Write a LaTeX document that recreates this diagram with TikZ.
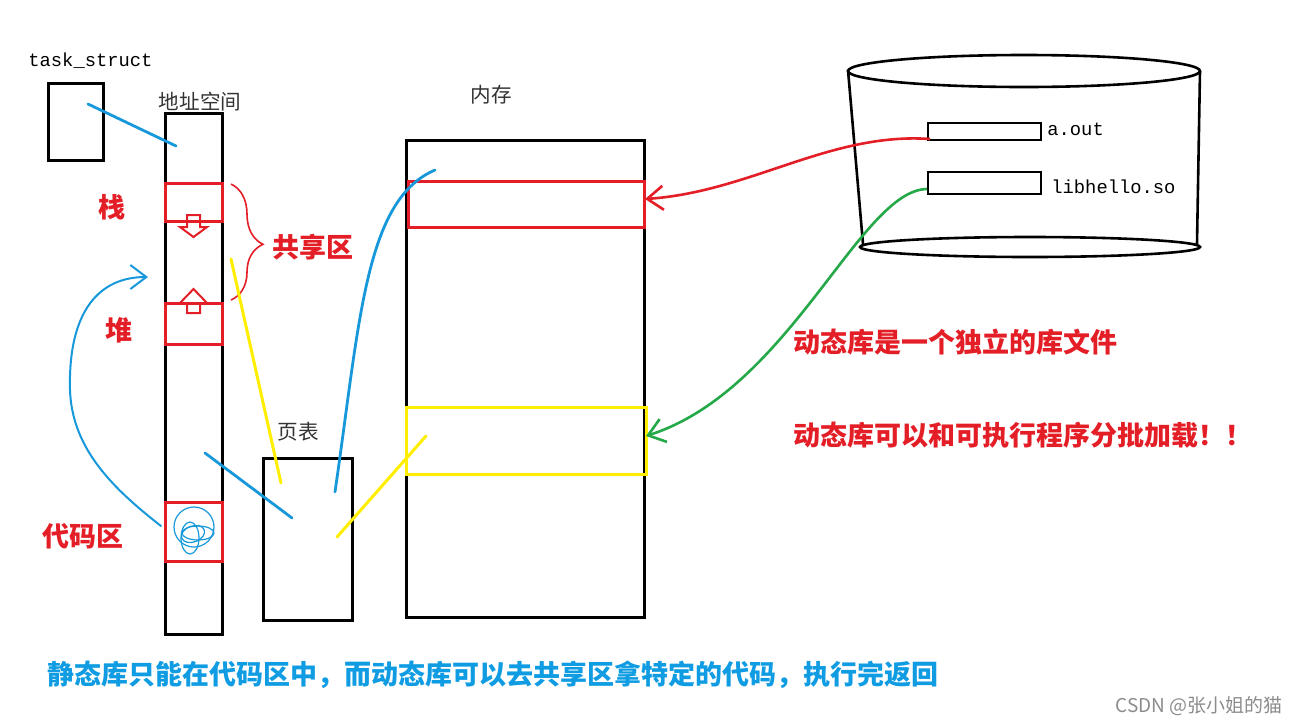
\documentclass[tikz,border=0pt]{standalone}
\usepackage{fontspec}
\setmonofont{Liberation Mono}
\newfontfamily\cjk{Noto Sans CJK SC}
\usetikzlibrary{arrows.meta,positioning,decorations.pathreplacing}
\definecolor{penred}{RGB}{228,30,38}
\definecolor{penblue}{RGB}{22,152,218}
\definecolor{penyellow}{RGB}{255,238,0}
\definecolor{pengreen}{RGB}{36,168,72}
\definecolor{noteblue}{RGB}{16,156,226}
\tikzset{
  blackbox/.style={draw, line width=1.5pt, inner sep=0pt},
  redbox/.style={draw=penred, line width=1.5pt, inner sep=0pt},
  yellowbox/.style={draw=penyellow, line width=1.5pt, inner sep=0pt},
  monotag/.style={font=\ttfamily\fontsize{9.4}{11}\selectfont, inner sep=0pt},
  graytag/.style={font=\cjk\fontsize{10.3}{12}\selectfont, text=black!80, inner sep=0pt},
  redtag/.style={font=\cjk\bfseries\fontsize{13.5}{16}\selectfont, text=penred, inner sep=0pt},
  bluestroke/.style={draw=penblue, line width=1.4pt, line cap=round},
  yellowstroke/.style={draw=penyellow, line width=1.5pt, line cap=round},
  barb/.style={-{Straight Barb[length=8pt, width=12pt]}}
}

\begin{document}
\begin{tikzpicture}[x=0.5pt, y=-0.5pt]
  \useasboundingbox (0,0) rectangle (1297,724);

  % process side
  \node[blackbox, minimum width=27.5pt, minimum height=38.5pt] (task) at (75.5,121.5) {};
  \node[monotag, anchor=base west] (tasklbl) at (28,66) {task\_struct};
  \node[blackbox, minimum width=28.5pt, minimum height=260.5pt] (addr) at (193.5,373.5) {};
  \node[graytag] (addrlbl) at (200,102) {地址空间};
  \node[redbox, minimum width=28.5pt, minimum height=19pt] (stack) at (193.5,202) {};
  \node[redbox, minimum width=28.5pt, minimum height=20.5pt] (heap) at (193.5,323.5) {};
  \node[redbox, minimum width=28.5pt, minimum height=29.5pt] (code) at (193.5,531.5) {};
  \node[redtag] (stacklbl) at (112,207) {栈};
  \node[redtag] (heaplbl) at (119,330) {堆};
  \node[redtag] (codelbl) at (83,536) {代码区};
  \node[redtag] (sharelbl) at (313,247) {共享区};

  % grow arrows
  \draw[penred, line width=1pt] (187,215) -- (200,215) -- (200,227) -- (207,227)
    -- (193.5,237) -- (180,227) -- (187,227) -- cycle;
  \draw[penred, line width=1pt] (187,313) -- (200,313) -- (200,303) -- (207,303)
    -- (193.5,289) -- (180,303) -- (187,303) -- cycle;
  \coordinate (brtop) at (231,184);
  \coordinate (brbot) at (231,300);
  \draw[penred, line width=0.8pt, decorate,
        decoration={brace, amplitude=16pt, aspect=0.52}] (brtop) -- (brbot);

  % scribble in code area
  \draw[penblue, line width=0.6pt] (194,527) ellipse [x radius=10pt, y radius=10pt];
  \draw[penblue, line width=0.6pt] (198,533) ellipse [x radius=8pt, y radius=3.5pt];
  \draw[penblue, line width=0.6pt, rotate around={20:(193,534)}] (193,534) ellipse [x radius=6pt, y radius=4pt];
  \draw[penblue, line width=0.6pt] (190,538) ellipse [x radius=4.5pt, y radius=8pt];

  % page table and memory
  \node[blackbox, minimum width=44.5pt, minimum height=81pt] (pt) at (307.5,539) {};
  \node[graytag] (ptlbl) at (298,432) {页表};
  \node[blackbox, minimum width=119pt, minimum height=238.5pt] (mem) at (525,378.5) {};
  \node[graytag] (memlbl) at (491,95) {内存};
  \node[redbox, minimum width=118pt, minimum height=23pt] (memexe) at (526,204) {};
  \node[yellowbox, minimum width=120pt, minimum height=33.5pt] (memlib) at (526,440.5) {};

  % disk
  \draw[line width=1.3pt] (848,70) -- (863,244);
  \draw[line width=1.3pt] (1200,71) -- (1197,244);
  \draw[line width=1.3pt] (1024,71) ellipse [x radius=88pt, y radius=8pt];
  \draw[line width=1.3pt] (1030,247) ellipse [x radius=85pt, y radius=5pt];
  \node[blackbox, line width=1.3pt, minimum width=56.5pt, minimum height=8.5pt] (aout) at (984.5,131.5) {};
  \node[blackbox, line width=1.3pt, minimum width=56.5pt, minimum height=11pt] (lib) at (984.5,183) {};
  \node[monotag, anchor=base west] (aoutlbl) at (1047,135) {a.out};
  \node[monotag, anchor=base west] (liblbl) at (1051,193) {libhello.so};

  % mapping strokes
  \coordinate (taskin) at (88,104);
  \coordinate (addrtop) at (176,146);
  \coordinate (codeout) at (161,526);
  \coordinate (heapin) at (148,277);
  \coordinate (addrlow) at (205,453);
  \coordinate (ptleft) at (292,518);
  \coordinate (sharein) at (231,259);
  \coordinate (ptup) at (281,483);
  \coordinate (ptright) at (335,492);
  \coordinate (exein) at (435,170);
  \coordinate (ptlow) at (337,537);
  \coordinate (libin) at (426,436);
  \draw[bluestroke] (taskin) -- (addrtop);
  \draw[bluestroke, line width=1pt, barb] (codeout) .. controls (115,490) and (72,450) .. (70,390)
    .. controls (68,310) and (100,277) .. (heapin);
  \draw[bluestroke] (addrlow) -- (ptleft);
  \draw[yellowstroke] (sharein) -- (ptup);
  \draw[bluestroke] (ptright) .. controls (360,320) and (365,200) .. (exein);
  \draw[yellowstroke] (ptlow) -- (libin);

  % loading from disk
  \coordinate (aoutw) at (930,139);
  \coordinate (libw) at (927,189);
  \coordinate (exetip) at (645,199);
  \coordinate (libtip) at (646,436);
  \draw[penred, line width=1.3pt, barb] (aoutw) .. controls (830,132) and (750,192) .. (exetip);
  \draw[pengreen, line width=1.3pt, barb] (libw) .. controls (860,190) and (790,390) .. (libtip);

  % notes
  \node[redtag, anchor=west] (note1) at (793,342) {动态库是一个独立的库文件};
  \node[redtag, anchor=west] (note2) at (793,435) {动态库可以和可执行程序分批加载！！};
  \node[font=\cjk\bfseries\fontsize{13.5}{16}\selectfont, text=noteblue, inner sep=0pt, anchor=west]
    (summary) at (47,675) {静态库只能在代码区中，而动态库可以去共享区拿特定的代码，执行完返回};
  \node[font=\cjk\fontsize{9.5}{11}\selectfont, text=black!45, inner sep=0pt, anchor=east]
    (mark) at (1283,706) {CSDN @张小姐的猫};
\end{tikzpicture}
\end{document}
